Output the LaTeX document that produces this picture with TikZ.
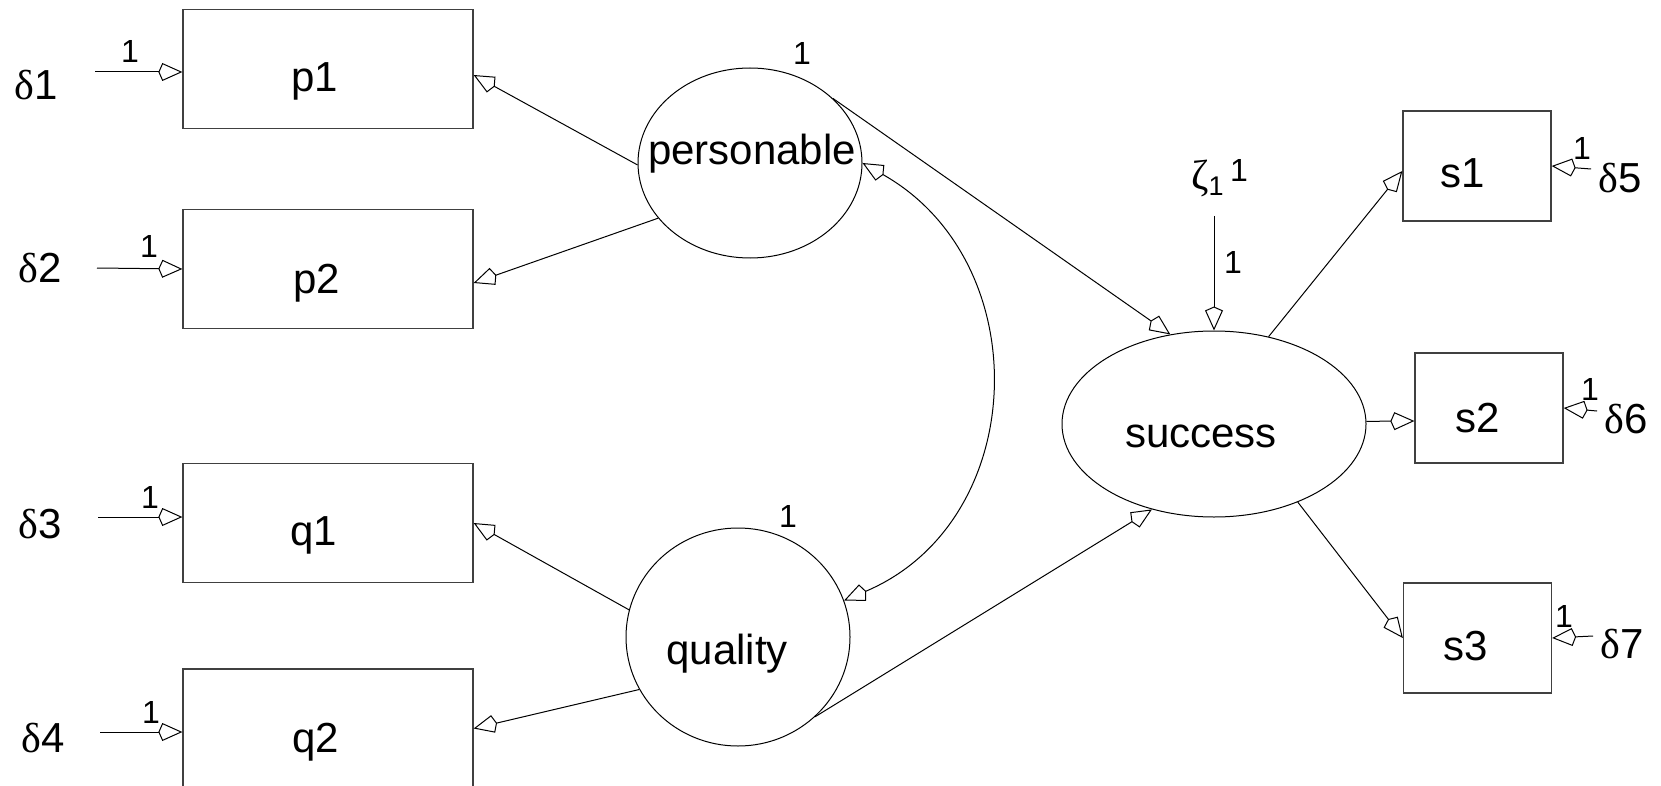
\documentclass[tikz,border=0pt]{standalone}
\usepackage{fontspec}
\setmainfont{Liberation Sans}
\newfontfamily\greekfont{Liberation Serif}
\usetikzlibrary{arrows.meta,shapes.geometric}

\begin{document}
\begin{tikzpicture}[x=1pt,y=1pt,
  tip/.tip={Kite[open,length=24pt,width=18pt,inset=4pt]},
  arr/.style={-tip,line width=1pt},
  biarr/.style={tip-tip,line width=1pt},
  lbox/.style={draw=black!75,line width=1.3pt,minimum width=290pt,minimum height=119pt,inner sep=0pt},
  rbox/.style={draw=black!75,line width=1.3pt,minimum width=148pt,minimum height=110pt,inner sep=0pt},
  latent/.style={ellipse,draw,line width=1pt,inner sep=0pt},
  txt/.style={font=\fontsize{42}{48}\selectfont,inner sep=0pt,anchor=base},
  lbl/.style={font=\fontsize{32}{36}\selectfont,inner sep=0pt,anchor=base}]

\clip (0,0) rectangle (1661,-786);
\fill[white] (0,0) rectangle (1661,-786);

% observed indicators
\node[lbox] (p1) at (328,-69) {};
\node[lbox] (p2) at (328,-269) {};
\node[lbox] (q1) at (328,-523) {};
\node[lbox] (q2) at (328,-728.5) {};
\node[rbox] (s1) at (1477,-166) {};
\node[rbox] (s2) at (1489,-408) {};
\node[rbox] (s3) at (1477.5,-638) {};

\node[txt] (p1t) at (315,-92) {p1};
\node[txt] (p2t) at (317,-293) {p2};
\node[txt] (q1t) at (314,-545) {q1};
\node[txt] (q2t) at (316,-752) {q2};
\node[txt] (s1t) at (1463,-188) {s1};
\node[txt] (s2t) at (1478,-432) {s2};
\node[txt] (s3t) at (1466,-660) {s3};

% latent variables
\node[latent,minimum width=224pt,minimum height=190pt] (pers) at (750,-163) {};
\node[latent,minimum width=224pt,minimum height=218pt] (qual) at (738,-637) {};
\node[latent,minimum width=304pt,minimum height=186pt] (succ) at (1214,-424) {};

\node[txt] (perst) at (752,-165) {personable};
\node[txt] (qualt) at (727,-664) {quality};
\node[txt] (succt) at (1201,-447) {success};

% error terms
\node[txt] (d1) at (36,-100) {{\greekfont δ}1};
\node[txt] (d2) at (40,-282) {{\greekfont δ}2};
\node[txt] (d3) at (40,-538) {{\greekfont δ}3};
\node[txt] (d4) at (43,-752) {{\greekfont δ}4};
\node[txt] (d5) at (1620,-193) {{\greekfont δ}5};
\node[txt] (d6) at (1626,-433) {{\greekfont δ}6};
\node[txt] (d7) at (1622,-658) {{\greekfont δ}7};
\node[txt,anchor=base west] (zeta) at (1191,-190) {{\greekfont ζ}\raisebox{-6pt}{\fontsize{27}{28}\selectfont 1}};

\coordinate (d1s) at (95,-72);
\coordinate (d2s) at (97,-268);
\coordinate (d3s) at (98,-517);
\coordinate (d4s) at (100,-732);
\coordinate (d5s) at (1591,-169);
\coordinate (d6s) at (1597,-411);
\coordinate (d7s) at (1593,-636);
\coordinate (zs) at (1214,-216);

% error paths
\draw[arr] (d1s) -- ([yshift=-3pt]p1.west);
\draw[arr] (d2s) -- (p2.west);
\draw[arr] (d3s) -- ([yshift=6pt]q1.west);
\draw[arr] (d4s) -- ([yshift=-3.5pt]q2.west);
\draw[arr] (d5s) -- (s1.east);
\draw[arr] (d6s) -- (s2.east);
\draw[arr] (d7s) -- (s3.east);
\draw[arr] (zs) -- (succ.90);

% loadings and structural paths
\draw[arr] (pers.181) -- ([yshift=-6pt]p1.east);
\draw[arr] (pers.211.6) -- ([yshift=-14pt]p2.east);
\draw[arr] (qual.166) -- (q1.east);
\draw[arr] (qual.208) -- (q2.east);
\draw[arr] (pers.38.4) -- (succ.116.3);
\draw[arr] (qual.-46.8) -- (succ.234.2);
\draw[arr] (succ.58.6) -- ([yshift=-5pt]s1.west);
\draw[arr] (succ.1.5) -- ([yshift=-13pt]s2.west);
\draw[arr] (succ.-43.6) -- (s3.west);

% covariance
\draw[biarr] (pers.0) to[out=-29.5,in=23,looseness=1.18] (qual.19.8);

% fixed parameters
\node[lbl] (l1) at (130,-63) {1};
\node[lbl] (l2) at (149,-258) {1};
\node[lbl] (l3) at (150,-508) {1};
\node[lbl] (l4) at (151,-723) {1};
\node[lbl] (lp) at (802,-65) {1};
\node[lbl] (lq) at (788,-527) {1};
\node[lbl] (lz) at (1239,-182) {1};
\node[lbl] (lza) at (1233,-273) {1};
\node[lbl] (l5) at (1582,-160) {1};
\node[lbl] (l6) at (1590,-400) {1};
\node[lbl] (l7) at (1564,-627) {1};
\end{tikzpicture}
\end{document}
